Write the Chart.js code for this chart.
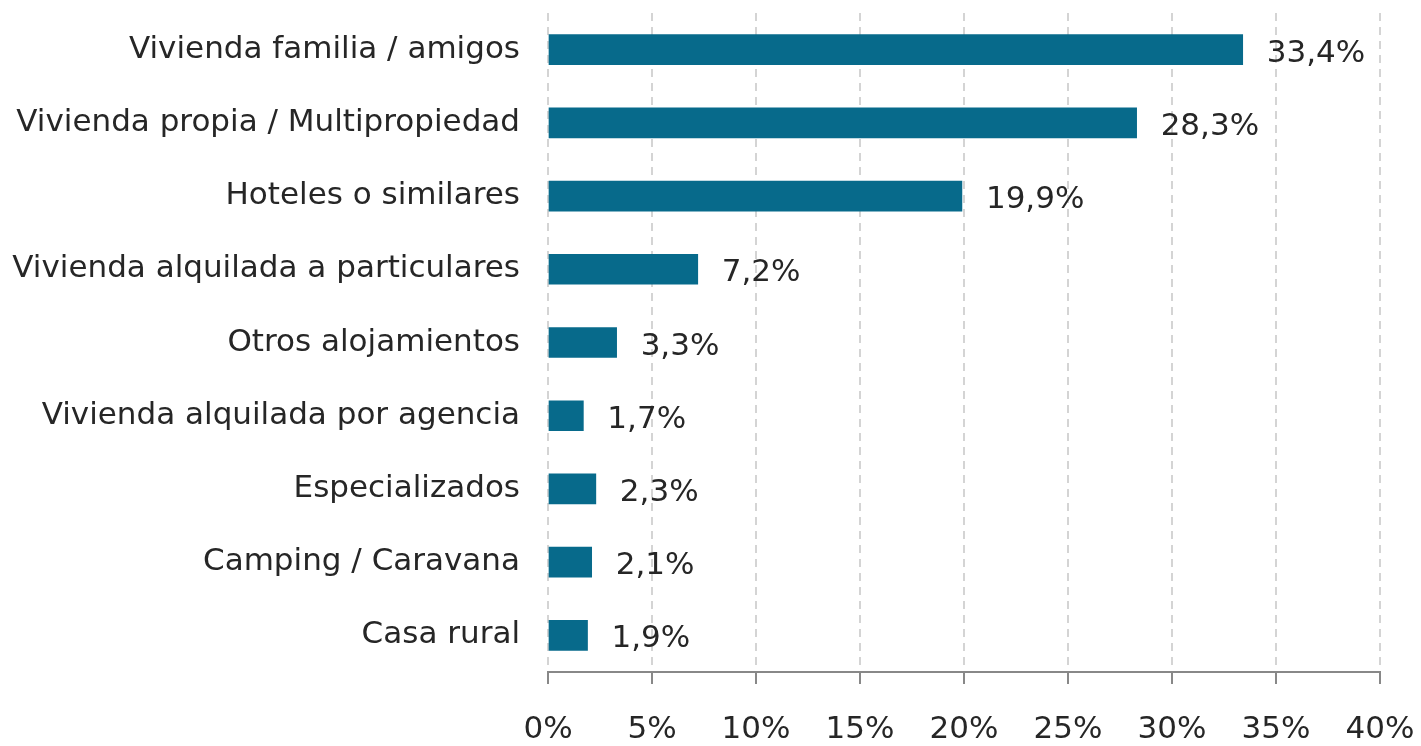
<!DOCTYPE html>
<html>
<head>
<meta charset="utf-8">
<script src="https://cdn.jsdelivr.net/npm/chart.js@4/dist/chart.umd.min.js"></script>
<style>
  html, body { margin: 0; padding: 0; background: #fff; }
  #wrap { width: 1421px; height: 746px; }
</style>
</head>
<body>
<div id="wrap"><canvas id="chart"></canvas></div>
<script>
const categories = [
  "Vivienda familia / amigos",
  "Vivienda propia / Multipropiedad",
  "Hoteles o similares",
  "Vivienda alquilada a particulares",
  "Otros alojamientos",
  "Vivienda alquilada por agencia",
  "Especializados",
  "Camping / Caravana",
  "Casa rural"
]
const shares = [33.4, 28.3, 19.9, 7.2, 3.3, 1.7, 2.3, 2.1, 1.9]
const tickValues = [0, 5, 10, 15, 20, 25, 30, 35, 40]

const FONT = "'DejaVu Sans', Verdana, sans-serif"
Chart.defaults.font.family = FONT
Chart.defaults.font.size = 31
Chart.defaults.color = "#262626"

const fmt = v => v.toFixed(1).replace(".", ",") + "%"

// value labels to the right of each bar
const barLabels = {
  id: "barLabels",
  afterDatasetsDraw(chart) {
    const ctx = chart.ctx
    const meta = chart.getDatasetMeta(0)
    ctx.save()
    ctx.font = "31px " + FONT
    ctx.fillStyle = "#262626"
    ctx.textAlign = "left"
    ctx.textBaseline = "middle"
    meta.data.forEach((bar, i) => {
      ctx.fillText(fmt(shares[i]), bar.x + 24, bar.y + 4)
    })
    ctx.restore()
  }
}

new Chart(document.getElementById("chart"), {
  type: "bar",
  data: {
    labels: categories,
    datasets: [{
      data: shares,
      backgroundColor: "#076a8b",
      borderWidth: 0,
      barThickness: 30
    }]
  },
  options: {
    indexAxis: "y",
    responsive: true,
    maintainAspectRatio: false,
    animation: false,
    layout: { padding: { top: 13, right: 41, bottom: 0, left: 0 } },
    plugins: {
      legend: { display: false },
      tooltip: { enabled: false }
    },
    scales: {
      x: {
        min: 0,
        max: 40,
        afterBuildTicks: scale => { scale.ticks = tickValues.map(v => ({ value: v })) },
        afterFit: scale => { scale.height = 74; scale.paddingLeft = 0; scale.paddingRight = 0 },
        ticks: {
          padding: 27,
          maxRotation: 0,
          callback: v => v + "%"
        },
        grid: {
          color: "#d4d4d4",
          lineWidth: 2,
          tickLength: 12,
          tickColor: "#888",
          tickWidth: 2,
          tickBorderDash: []
        },
        border: { display: true, color: "#888", width: 2, dash: [8, 6] }
      },
      y: {
        afterFit: scale => { scale.width = 548; scale.paddingTop = 0; scale.paddingBottom = 0 },
        ticks: { padding: 28 },
        grid: { display: false, drawTicks: false },
        border: { display: false }
      }
    }
  },
  plugins: [barLabels]
})
</script>
</body>
</html>
